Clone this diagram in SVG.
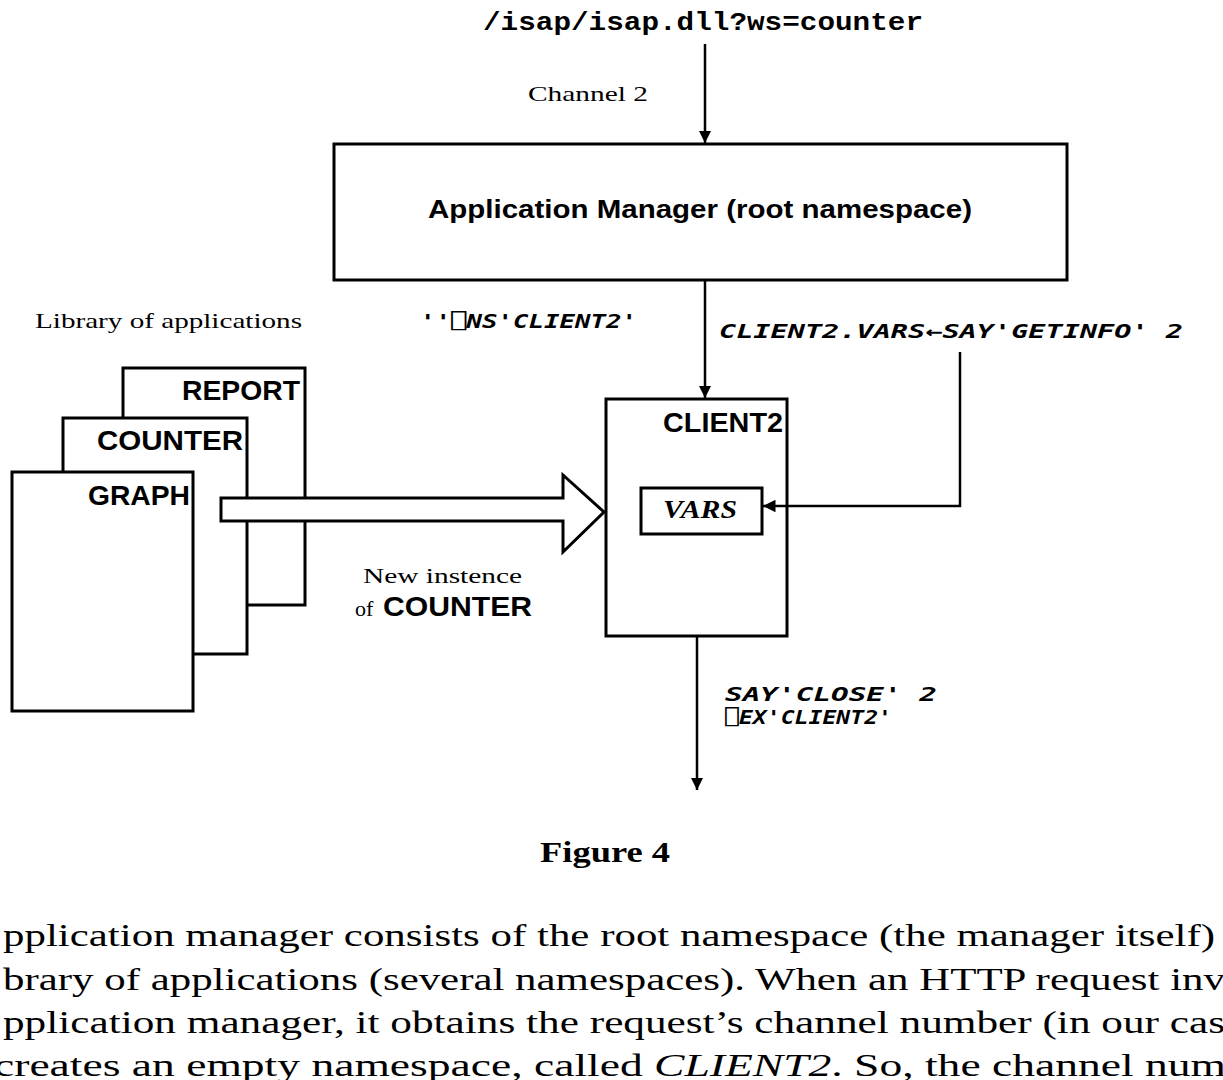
<svg xmlns="http://www.w3.org/2000/svg" width="1223" height="1080" viewBox="0 0 1223 1080">
<style>
.box{fill:#fff;stroke:#000;stroke-width:3}
.ln{fill:none;stroke:#000;stroke-width:2.5}
.lbl{font-family:"Liberation Sans",Arial,sans-serif;font-weight:bold;fill:#000}
.ser{font-family:"Liberation Serif","Times New Roman",serif;fill:#000}
.apl{font-family:"DejaVu Sans Mono","Liberation Mono",monospace;font-weight:bold;font-style:italic;fill:#000}
.mono{font-family:"Liberation Mono","Courier New",monospace;font-weight:bold;fill:#000}
</style>
<defs>
<marker id="ah" viewBox="0 0 10 10" refX="10" refY="5" markerWidth="5" markerHeight="5" markerUnits="strokeWidth" orient="auto">
<path d="M0,0 L10,5 L0,10 z" fill="#000"/>
</marker>
</defs>
<rect width="1223" height="1080" fill="#fff"/>

<text class="mono" x="483" y="30" font-size="26" textLength="440" lengthAdjust="spacingAndGlyphs">/isap/isap.dll?ws=counter</text>
<text class="ser" x="528" y="101" font-size="22" textLength="120" lengthAdjust="spacingAndGlyphs">Channel 2</text>

<g id="appmanager">
<rect class="box" x="334" y="144" width="733" height="136"/>
<text class="lbl" x="428" y="218" font-size="26" textLength="544" lengthAdjust="spacingAndGlyphs">Application Manager (root namespace)</text>
</g>

<text class="ser" x="35" y="328" font-size="22" textLength="267" lengthAdjust="spacingAndGlyphs">Library of applications</text>
<text class="apl" x="420" y="328" font-size="20" textLength="217" lengthAdjust="spacingAndGlyphs">''⎕NS'CLIENT2'</text>
<text class="apl" x="719" y="338" font-size="20" textLength="464" lengthAdjust="spacingAndGlyphs">CLIENT2.VARS←SAY'GETINFO' 2</text>

<g id="report">
<rect class="box" x="123" y="368" width="182" height="237"/>
<text class="lbl" x="300" y="400" font-size="28" text-anchor="end" textLength="118" lengthAdjust="spacingAndGlyphs">REPORT</text>
</g>
<g id="counter">
<rect class="box" x="63" y="418" width="184" height="236"/>
<text class="lbl" x="243" y="450" font-size="28" text-anchor="end" textLength="146" lengthAdjust="spacingAndGlyphs">COUNTER</text>
</g>
<g id="graph">
<rect class="box" x="12" y="472" width="181" height="239"/>
<text class="lbl" x="190" y="505" font-size="28" text-anchor="end" textLength="102" lengthAdjust="spacingAndGlyphs">GRAPH</text>
</g>

<g id="client2">
<rect class="box" x="606" y="399" width="181" height="237"/>
<text class="lbl" x="783" y="432" font-size="28" text-anchor="end" textLength="120" lengthAdjust="spacingAndGlyphs">CLIENT2</text>
</g>
<g id="vars">
<rect class="box" x="641" y="488" width="121" height="46"/>
<text class="ser" x="663" y="518" font-size="26" font-style="italic" font-weight="bold" textLength="74" lengthAdjust="spacingAndGlyphs">VARS</text>
</g>

<g id="connectors">
<line class="ln" x1="705" y1="44" x2="705" y2="143" marker-end="url(#ah)"/>
<line class="ln" x1="705" y1="281" x2="705" y2="398" marker-end="url(#ah)"/>
<polyline class="ln" points="960,352 960,506 763,506" marker-end="url(#ah)"/>
<line class="ln" x1="697" y1="637" x2="697" y2="790" marker-end="url(#ah)"/>
<polygon class="box" points="221,498 563,498 563,475 604,512 563,552 563,521 221,521"/>
</g>

<text class="ser" x="363" y="583" font-size="22" textLength="159" lengthAdjust="spacingAndGlyphs">New instence</text>
<text class="ser" x="355" y="616" font-size="22">of</text>
<text class="lbl" x="383" y="616" font-size="28" textLength="149" lengthAdjust="spacingAndGlyphs">COUNTER</text>

<text class="apl" x="725" y="701" font-size="20" textLength="212" lengthAdjust="spacingAndGlyphs">SAY'CLOSE' 2</text>
<text class="apl" x="725" y="724" font-size="20" textLength="167" lengthAdjust="spacingAndGlyphs">⎕EX'CLIENT2'</text>

<text class="ser" x="540" y="862" font-size="30" font-weight="bold" textLength="130" lengthAdjust="spacingAndGlyphs">Figure 4</text>

<text class="ser" x="3" y="946" font-size="32" textLength="1212" lengthAdjust="spacingAndGlyphs">pplication manager consists of the root namespace (the manager itself)</text>
<text class="ser" x="3" y="990" font-size="32" textLength="1222" lengthAdjust="spacingAndGlyphs">brary of applications (several namespaces). When an HTTP request inv</text>
<text class="ser" x="3" y="1033" font-size="32" textLength="1222" lengthAdjust="spacingAndGlyphs">pplication manager, it obtains the request’s channel number (in our cas</text>
<text class="ser" x="-6" y="1076" font-size="32" textLength="1232" lengthAdjust="spacingAndGlyphs">creates an empty namespace, called <tspan font-style="italic">CLIENT2</tspan>. So, the channel num</text>
</svg>
